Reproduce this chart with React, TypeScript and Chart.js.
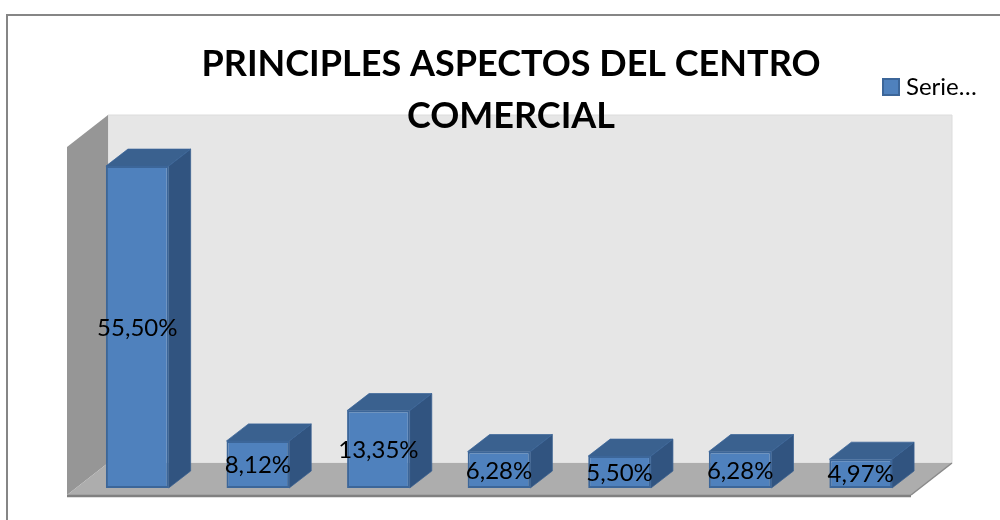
import React, { useEffect, useRef } from "react";
import { Chart, registerables } from "chart.js";

Chart.register(...registerables);

const categories = ["1", "2", "3", "4", "5", "6", "7"];
const seriesValues = [55.5, 8.12, 13.35, 6.28, 5.5, 6.28, 4.97];
const seriesName = "Serie…";
const titleLines = ["PRINCIPLES ASPECTOS DEL CENTRO", "COMERCIAL"];

const FONT = "Lato, Carlito, sans-serif";

// Oblique projection offsets for the box and for the bars.
const BOX = { frontDx: -10, frontDy: 7, dx: 41, dy: -32 };
const BAR = { dx: 22, dy: -17 };

const polygon = (ctx: CanvasRenderingContext2D, pts: number[][], fill: string, stroke?: string, lw = 1) => {
  ctx.beginPath();
  pts.forEach(([x, y], i) => (i ? ctx.lineTo(x, y) : ctx.moveTo(x, y)));
  ctx.closePath();
  ctx.fillStyle = fill;
  ctx.fill();
  if (stroke) {
    ctx.strokeStyle = stroke;
    ctx.lineWidth = lw;
    ctx.stroke();
  }
};

// Moves the title and legend to their final spot once the layout is done.
const placementPlugin = {
  id: "placement",
  afterLayout(chart: any) {
    const t = chart.titleBlock;
    t.left += 12;
    t.right += 12;
    t.top += 2;
    t.bottom += 2;
    const l = chart.legend;
    l.left = 878;
    l.top = 65;
    l.right = 1000;
    l.bottom = 120;
  },
};

// Outer frame, walls and floor go under everything else; the title sits on top of them.
const backdropPlugin = {
  id: "backdrop",
  beforeDraw(chart: any) {
    const { ctx, width, height, chartArea, scales } = chart;
    ctx.save();
    ctx.fillStyle = "#ffffff";
    ctx.fillRect(0, 0, width, height);
    ctx.strokeStyle = "#868686";
    ctx.lineWidth = 2;
    ctx.beginPath();
    ctx.moveTo(7, height);
    ctx.lineTo(7, 15);
    ctx.lineTo(width, 15);
    ctx.stroke();

    const yTop = scales.y.getPixelForValue(scales.y.max) + BOX.frontDy;
    const yBase = scales.y.getPixelForValue(0) + BOX.frontDy;
    const xL = chartArea.left + BOX.frontDx;
    const xR = chartArea.right + BOX.frontDx;
    const { dx, dy } = BOX;
    polygon(ctx, [[xL + dx, yTop + dy], [xR + dx, yTop + dy], [xR + dx, yBase + dy], [xL + dx, yBase + dy]], "#e6e6e6", "#dcdcdc");
    polygon(ctx, [[xL, yTop], [xL + dx, yTop + dy], [xL + dx, yBase + dy], [xL, yBase]], "#969696");
    polygon(ctx, [[xL, yBase], [xL + dx, yBase + dy], [xR + dx, yBase + dy], [xR, yBase]], "#adadad");
    ctx.strokeStyle = "#8a8a8a";
    ctx.lineWidth = 1.5;
    ctx.beginPath();
    ctx.moveTo(xR, yBase);
    ctx.lineTo(xR + dx, yBase + dy);
    ctx.stroke();
    ctx.strokeStyle = "#808080";
    ctx.lineWidth = 2.5;
    ctx.beginPath();
    ctx.moveTo(xL, yBase + 1);
    ctx.lineTo(xR, yBase + 1);
    ctx.stroke();
    ctx.restore();
  },
};

// Extruded side and top faces of each bar, then the value labels over the fronts.
const depthPlugin = {
  id: "depth",
  beforeDatasetsDraw(chart: any) {
    const { ctx } = chart;
    ctx.save();
    chart.getDatasetMeta(0).data.forEach((bar: any) => {
      const { x, y, base, width } = bar.getProps(["x", "y", "base", "width"]);
      const l = x - width / 2;
      const r = x + width / 2;
      polygon(ctx, [[r, y], [r + BAR.dx, y + BAR.dy], [r + BAR.dx, base + BAR.dy], [r, base]], "#315480", "#3a6090", 0.75);
      polygon(ctx, [[l, y], [l + BAR.dx, y + BAR.dy], [r + BAR.dx, y + BAR.dy], [r, y]], "#3a618f", "#3a6498", 0.75);
    });
    ctx.restore();
  },
  afterDatasetsDraw(chart: any) {
    const { ctx } = chart;
    ctx.save();
    ctx.fillStyle = "#000000";
    ctx.font = `24px ${FONT}`;
    ctx.textAlign = "center";
    ctx.textBaseline = "middle";
    chart.getDatasetMeta(0).data.forEach((bar: any, i: number) => {
      const { x, y, base } = bar.getProps(["x", "y", "base"]);
      const text = `${seriesValues[i].toFixed(2).replace(".", ",")}%`;
      ctx.fillText(text, x, (y + base) / 2 + 1);
    });
    ctx.restore();
  },
};

export default function App() {
  const canvasRef = useRef<HTMLCanvasElement | null>(null);

  useEffect(() => {
    if (!canvasRef.current) return;
    const chart = new Chart(canvasRef.current, {
      type: "bar",
      data: {
        labels: categories,
        datasets: [
          {
            label: seriesName,
            data: seriesValues,
            backgroundColor: "#4f81bd",
            borderColor: "#3c6699",
            borderWidth: 2,
            borderSkipped: false,
            barPercentage: 0.52,
            categoryPercentage: 1,
          },
        ],
      },
      options: {
        animation: false,
        responsive: false,
        layout: { padding: { left: 77, right: 79, top: 36, bottom: 32 } },
        scales: {
          x: { display: false },
          y: { display: false, min: 0, max: 60 },
        },
        plugins: {
          tooltip: { enabled: false },
          title: {
            display: true,
            text: titleLines,
            color: "#000000",
            font: { family: FONT, size: 36, weight: "bold", lineHeight: 52 / 36 },
            padding: 0,
          },
          legend: {
            position: "chartArea",
            align: "start",
            labels: {
              color: "#000000",
              font: { family: FONT, size: 24 },
              usePointStyle: true,
              pointStyle: "rect",
              boxWidth: 6,
              boxHeight: 16,
              padding: 10,
            },
          },
        },
      },
      plugins: [placementPlugin, backdropPlugin, depthPlugin],
    } as any);
    return () => chart.destroy();
  }, []);

  return (
    <div style={{ position: "absolute", left: 0, top: 0, width: 1000, height: 520 }}>
      <canvas ref={canvasRef} width={1000} height={520} style={{ display: "block" }} />
    </div>
  );
}
